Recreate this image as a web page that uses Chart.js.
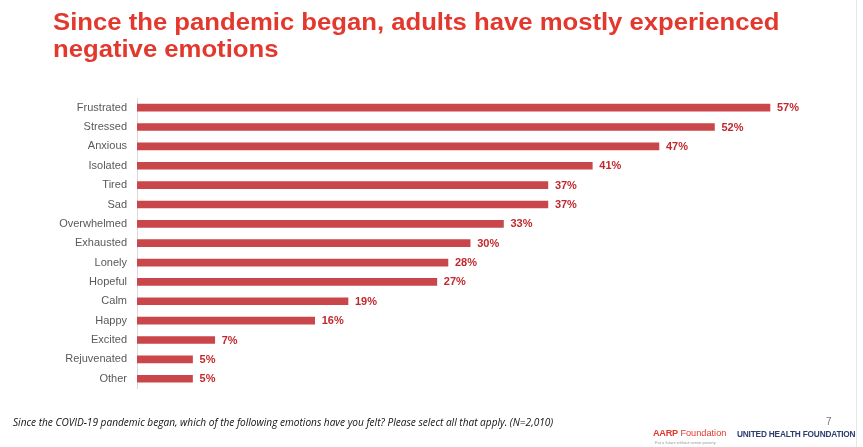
<!DOCTYPE html>
<html>
<head>
<meta charset="utf-8">
<script src="https://cdn.jsdelivr.net/npm/chart.js@4"></script>
<style>
  html, body { margin: 0; padding: 0; background: #fff; }
  #page { position: relative; width: 863px; height: 447px; overflow: hidden; font-family: "Liberation Sans", Arial, sans-serif; }
  #chart { position: absolute; left: 0; top: 0; }
  .title { position: absolute; left: 53px; top: 8px; color: #e2382d; font-weight: bold; font-size: 24px; line-height: 27px; white-space: nowrap; transform: scaleX(1.07); transform-origin: left top; }
  .note { position: absolute; left: 13px; top: 415px; font-family: "Open Sans", sans-serif; font-style: italic; font-size: 10.1px; color: #111; white-space: nowrap; }
  .pagenum { position: absolute; left: 826px; top: 416px; font-size: 10px; color: #777; }
  .aarp { position: absolute; left: 653px; top: 428px; white-space: nowrap; color: #e2382d; font-size: 9.2px; }
  .aarp b { font-weight: 900; letter-spacing: -0.3px; }
  .tag { position: absolute; left: 655px; top: 440px; font-size: 4px; color: #999; white-space: nowrap; }
  .uhf { position: absolute; left: 737px; top: 429px; font-size: 8.3px; color: #2d3d6e; font-weight: bold; white-space: nowrap; letter-spacing: -0.2px; }
  .edge { position: absolute; left: 856px; top: 0; width: 1px; height: 447px; background: #e8e8e8; }
</style>
</head>
<body>
<div id="page">
  <canvas id="chart" width="863" height="447"></canvas>
  <div class="title">Since the pandemic began, adults have mostly experienced<br>negative emotions</div>
  <div class="note">Since the COVID-19 pandemic began, which of the following emotions have you felt? Please select all that apply. (N=2,010)</div>
  <div class="pagenum">7</div>
  <div class="aarp"><b>AARP</b> Foundation</div>
  <div class="tag">For a future without senior poverty</div>
  <div class="uhf">UNITED HEALTH FOUNDATION</div>
  <div class="edge"></div>
</div>
<script>
const emotions = [
  'Frustrated', 'Stressed', 'Anxious', 'Isolated', 'Tired', 'Sad',
  'Overwhelmed', 'Exhausted', 'Lonely', 'Hopeful', 'Calm', 'Happy',
  'Excited', 'Rejuvenated', 'Other'
];
const percents = [57, 52, 47, 41, 37, 37, 33, 30, 28, 27, 19, 16, 7, 5, 5];

// value labels at the end of each bar
const barLabels = {
  id: 'barLabels',
  afterDatasetsDraw(chart) {
    const ctx = chart.ctx;
    const meta = chart.getDatasetMeta(0);
    ctx.save();
    ctx.font = 'bold 11px "Liberation Sans", Arial, sans-serif';
    ctx.fillStyle = '#c0282d';
    ctx.textBaseline = 'middle';
    ctx.textAlign = 'left';
    meta.data.forEach((bar, i) => {
      ctx.fillText(percents[i] + '%', bar.x + 7, bar.y + 0.5);
    });
    ctx.restore();
  }
};

new Chart(document.getElementById('chart').getContext('2d'), {
  type: 'bar',
  data: {
    labels: emotions,
    datasets: [{
      data: percents,
      backgroundColor: '#c9474b',
      barThickness: 7
    }]
  },
  options: {
    indexAxis: 'y',
    responsive: false,
    animation: false,
    layout: { padding: { left: 0, right: 37.5, top: 98, bottom: 58.6 } },
    plugins: {
      legend: { display: false },
      tooltip: { enabled: false }
    },
    scales: {
      x: {
        display: false,
        min: 0,
        max: 62
      },
      y: {
        afterFit: s => { s.width = 137; },
        grid: { display: false, drawTicks: false },
        border: { display: true, color: '#d9d9d9' },
        ticks: {
          padding: 10,
          color: '#595959',
          font: { family: '"Liberation Sans", Arial, sans-serif', size: 11 }
        }
      }
    }
  },
  plugins: [barLabels]
});
</script>
</body>
</html>
